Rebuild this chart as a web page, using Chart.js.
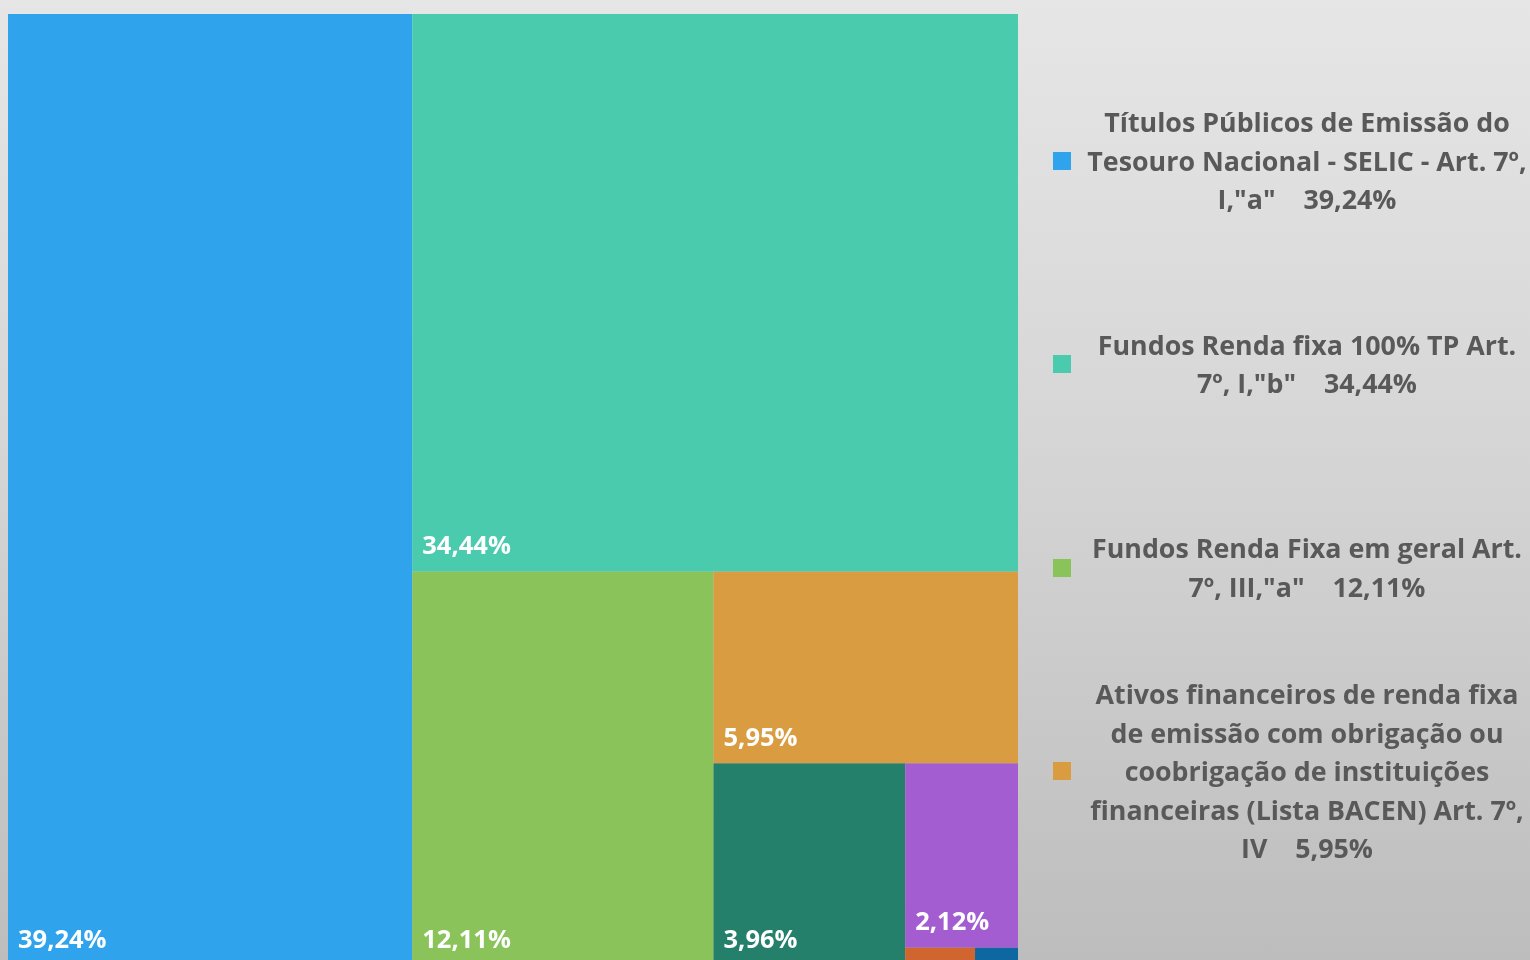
<!DOCTYPE html>
<html lang="pt-BR">
<head>
<meta charset="UTF-8">
<title>Carteira por enquadramento</title>
<script src="https://cdn.jsdelivr.net/npm/chart.js"></script>
<style>
    html, body { margin: 0; padding: 0; }
    body {
        width: 1530px; height: 960px; overflow: hidden; position: relative;
        background: linear-gradient(to bottom, #e6e6e6 0%, #d6d6d6 45%, #bdbdbd 100%);
        font-family: "Open Sans", Lato, sans-serif;
    }
    .grafico { position: absolute; left: 0; top: 0; width: 1530px; height: 980px; }
    #legenda { position: absolute; left: 1053px; top: 59px; width: 477px; }
    .item { height: 203.5px; display: flex; align-items: center; }
    .marca { width: 18px; height: 18px; flex: none; }
    .texto {
        width: 446px; margin-left: 13px; text-align: center; color: #595959;
        font-weight: bold; font-size: 26.8px; line-height: 38.5px; white-space: pre-wrap;
    }
</style>
</head>
<body>
<div class="grafico"><canvas id="treemap"></canvas></div>
<div id="legenda"></div>
<script>
// dados da carteira (% do total)
const categorias = [
    'Títulos Públicos de Emissão do Tesouro Nacional - SELIC - Art. 7º, I,"a"',
    'Fundos Renda fixa 100% TP Art. 7º, I,"b"',
    'Fundos Renda Fixa em geral Art. 7º, III,"a"',
    'Ativos financeiros de renda fixa de emissão com obrigação ou coobrigação de instituições financeiras (Lista BACEN) Art. 7º, IV',
    'Fundos de Ações Art. 8º, II,"a"',
    'Fundos Multimercado Art. 10º, I',
    'Fundos em Participações Art. 10º, II',
    'Fundos Imobiliários Art. 11º'
];
const valores = [39.24, 34.44, 12.11, 5.95, 3.96, 2.12, 0.13, 0.08];
const cores = ['#2FA3EC', '#4BCBAE', '#89C35A', '#DA9C41', '#247F6B', '#A45DD0', '#D0652F', '#0E67A0'];
const itensLegenda = 4;

function formatar(v) {
    return v.toFixed(2).replace('.', ',') + '%';
}

// divide o retangulo restante pelo lado maior, item a item (como o Excel)
function montarBlocos(vals, larguraPx, alturaPx) {
    let x0 = 0, y0 = 0, x1 = 1, y1 = 1;
    let resto = vals.reduce((a, b) => a + b, 0);
    const blocos = [];
    for (let i = 0; i < vals.length; i++) {
        const f = vals[i] / resto;
        const w = (x1 - x0) * larguraPx, h = (y1 - y0) * alturaPx;
        if (i == vals.length - 1) {
            blocos.push({ x0, y0, x1, y1 });
        } else if (w >= h) {
            const xm = x0 + f * (x1 - x0);
            blocos.push({ x0, y0, x1: xm, y1 });
            x0 = xm;
        } else {
            const ym = y0 + f * (y1 - y0);
            blocos.push({ x0, y0, x1, y1: ym });
            y0 = ym;
        }
        resto -= vals[i];
    }
    return blocos;
}

const pluginTreemap = {
    id: 'treemap',
    beforeDatasetsDraw(chart) {
        const ctx = chart.ctx;
        const xs = chart.scales.x, ys = chart.scales.y;
        const ds = chart.data.datasets[0];
        const area = chart.chartArea;
        const blocos = montarBlocos(ds.valores, area.right - area.left, area.bottom - area.top);
        ctx.save();
        blocos.forEach(function (b, i) {
            const l = xs.getPixelForValue(b.x0), r = xs.getPixelForValue(b.x1);
            const t = ys.getPixelForValue(b.y0), btm = ys.getPixelForValue(b.y1);
            ctx.fillStyle = ds.cores[i];
            ctx.fillRect(l, t, r - l, btm - t);
            if (btm - t > 50 && r - l > 90) {
                ctx.fillStyle = '#ffffff';
                ctx.font = 'bold 25.5px "Open Sans", Lato, sans-serif';
                ctx.textBaseline = 'middle';
                ctx.textAlign = 'left';
                ctx.fillText(formatar(ds.valores[i]), l + 10, btm - 25);
            }
        });
        ctx.restore();
    }
};

new Chart(document.getElementById('treemap'), {
    type: 'scatter',
    data: {
        labels: categorias,
        datasets: [{ data: [], valores: valores, cores: cores, pointRadius: 0 }]
    },
    options: {
        responsive: true,
        maintainAspectRatio: false,
        animation: false,
        layout: { padding: { left: 8, top: 14, right: 512, bottom: 14 } },
        scales: {
            x: { type: 'linear', min: 0, max: 1, display: false },
            y: { type: 'linear', min: 0, max: 1, reverse: true, display: false }
        },
        plugins: { legend: { display: false }, tooltip: { enabled: false } }
    },
    plugins: [pluginTreemap]
});

// legenda em html, so os itens visiveis
const legenda = document.getElementById('legenda');
for (let i = 0; i < itensLegenda; i++) {
    const item = document.createElement('div');
    item.className = 'item';
    const marca = document.createElement('div');
    marca.className = 'marca';
    marca.style.background = cores[i];
    const texto = document.createElement('div');
    texto.className = 'texto';
    texto.textContent = categorias[i] + '    ' + formatar(valores[i]);
    item.appendChild(marca);
    item.appendChild(texto);
    legenda.appendChild(item);
}
</script>
</body>
</html>
